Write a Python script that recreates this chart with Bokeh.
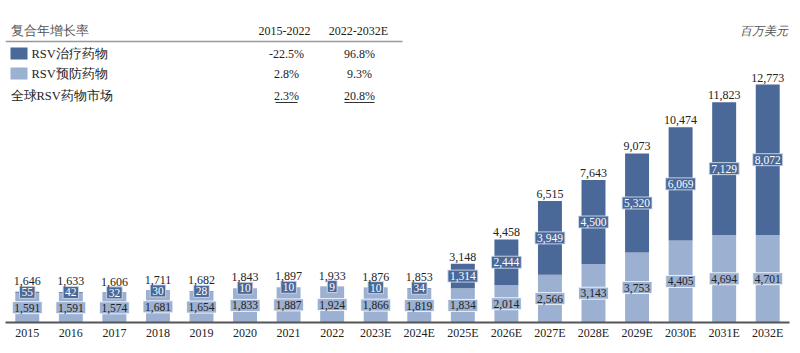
from bokeh.plotting import figure
from bokeh.models import Range1d, FixedTicker, ColumnDataSource
from bokeh.core.properties import value
from bokeh.embed import file_html
from bokeh.resources import INLINE

# ---- data ----
categories = ["2015", "2016", "2017", "2018", "2019", "2020", "2021", "2022", "2023E",
              "2024E", "2025E", "2026E", "2027E", "2028E", "2029E", "2030E", "2031E", "2032E"]
prevention = [1591, 1591, 1574, 1681, 1654, 1833, 1887, 1924, 1866,
              1819, 1834, 2014, 2566, 3143, 3753, 4405, 4694, 4701]
treatment = [55, 42, 32, 30, 28, 10, 10, 9, 10,
             34, 1314, 2444, 3949, 4500, 5320, 6069, 7129, 8072]
totals = [1646, 1633, 1606, 1711, 1682, 1843, 1897, 1933, 1876,
          1853, 3148, 4458, 6515, 7643, 9073, 10474, 11823, 12773]

cagr_header = ["复合年增长率", "2015-2022", "2022-2032E"]
cagr_rows = ["RSV治疗药物", "RSV预防药物", "全球RSV药物市场"]
cagr_2015_2022 = ["-22.5%", "2.8%", "2.3%"]
cagr_2022_2032 = ["96.8%", "9.3%", "20.8%"]
unit_label = "百万美元"

DARK = "#4a6898"
LIGHT = "#9cb0d1"
SERIF = "Liberation Serif"

W, H = 800, 353
LEFT, RIGHT, TOP, BOTTOM = 5, 11, 0, 31
FW = W - LEFT - RIGHT
FH = H - TOP - BOTTOM
UNITS_PER_PX = 12773 / 238.0
YMAX = FH * UNITS_PER_PX
n = len(categories)

p = figure(width=W, height=H, output_backend="svg", toolbar_location=None,
           x_range=Range1d(-0.5, n - 0.5), y_range=Range1d(0, YMAX),
           y_axis_location=None, min_border_left=LEFT, min_border_right=RIGHT,
           min_border_top=TOP, min_border_bottom=BOTTOM)
p.outline_line_color = None
p.xgrid.visible = False
p.ygrid.visible = False
p.background_fill_color = "white"
p.border_fill_color = "white"

xs = list(range(n))
top1 = prevention
top2 = [a + b for a, b in zip(prevention, treatment)]
mid1 = [a / 2 for a in prevention]
mid2 = [a + b / 2 for a, b in zip(prevention, treatment)]
# total label sits above the bar, or above the inner label box if that is higher
total_y = [max(t + 3 * UNITS_PER_PX, m + 7 * UNITS_PER_PX) for t, m in zip(top2, mid2)]

src = ColumnDataSource(dict(
    x=xs, top1=top1, top2=top2, mid1=mid1, mid2=mid2, total_y=total_y,
    prev_s=[f"{v:,}" for v in prevention],
    treat_s=[f"{v:,}" for v in treatment],
    total_s=[f"{v:,}" for v in totals],
))

bw = 0.55
p.vbar(x="x", bottom=0, top="top1", width=bw, source=src, fill_color=LIGHT, line_color=None)
p.vbar(x="x", bottom="top1", top="top2", width=bw, source=src, fill_color=DARK, line_color=None)

p.text(x="x", y="mid1", text="prev_s", source=src, text_font=value(SERIF),
       text_font_size="11.5px", text_color="#222222", text_align="center",
       text_baseline="middle", background_fill_color=LIGHT,
       border_line_color="white", border_line_alpha=0.8, border_line_width=1, padding=2)
p.text(x="x", y="mid2", text="treat_s", source=src, text_font=value(SERIF),
       text_font_size="11.5px", text_color="white", text_align="center",
       text_baseline="middle", background_fill_color=DARK,
       border_line_color="#d0daea", border_line_alpha=0.9, border_line_width=1, padding=2)
p.text(x="x", y="total_y", text="total_s", source=src, text_font=value(SERIF),
       text_font_size="12px", text_color="#222222", text_align="center",
       text_baseline="bottom")

ax = p.xaxis[0]
ax.ticker = FixedTicker(ticks=xs)
ax.major_label_overrides = {i: c for i, c in enumerate(categories)}
ax.major_tick_line_color = None
ax.minor_tick_line_color = None
ax.major_tick_out = 0
ax.major_tick_in = 0
ax.axis_line_color = "#555555"
ax.axis_line_width = 2
ax.major_label_standoff = 3
ax.major_label_text_font = SERIF
ax.major_label_text_font_size = "12px"
ax.major_label_text_color = "#222222"

# ---- CAGR table (positions in pixels converted to data) ----
def px2x(xp):
    return (xp - LEFT) / FW * n - 0.5

def px2y(yp):
    return (FH - (yp - TOP)) * UNITS_PER_PX

tab = ColumnDataSource(dict(
    y=[px2y(53), px2y(73), px2y(95)],
    label=cagr_rows,
    lx=[px2x(31), px2x(31), px2x(10)],
    c1=cagr_2015_2022, c2=cagr_2022_2032,
    x1=[px2x(286)] * 3, x2=[px2x(359)] * 3,
))
p.text(x=[px2x(10)], y=[px2y(30)], text=[cagr_header[0]], text_font=value(SERIF),
       text_font_size="12.5px", text_color="#555555", text_baseline="middle")
p.text(x=[px2x(284), px2x(358)], y=[px2y(30)] * 2, text=cagr_header[1:],
       text_font=value(SERIF), text_font_size="12px", text_color="#222222",
       text_align="center", text_baseline="middle")
p.line(x=[px2x(5), px2x(402)], y=[px2y(41)] * 2, line_color="#999999", line_width=1.5)
p.rect(x=[px2x(18.5)] * 2, y=[px2y(53), px2y(73)], width=17, height=12,
       width_units="screen", height_units="screen",
       fill_color=[DARK, LIGHT], line_color=None)
p.text(x="lx", y="y", text="label", source=tab, text_font=value(SERIF),
       text_font_size="12.5px", text_color="#222222", text_baseline="middle")
p.text(x="x1", y="y", text="c1", source=tab, text_font=value(SERIF),
       text_font_size="12px", text_color="#222222", text_align="center",
       text_baseline="middle")
p.text(x="x2", y="y", text="c2", source=tab, text_font=value(SERIF),
       text_font_size="12px", text_color="#222222", text_align="center",
       text_baseline="middle")
# underlines for total row
p.segment(x0=[px2x(275), px2x(344)], x1=[px2x(297), px2x(374)],
          y0=[px2y(102)] * 2, y1=[px2y(102)] * 2, line_color="#333333", line_width=1)

p.text(x=[px2x(787)], y=[px2y(30)], text=[unit_label], text_font=value(SERIF),
       text_font_size="12px", text_font_style="italic", text_color="#555555",
       text_align="right", text_baseline="middle")

open("out.html", "w").write(file_html(p, INLINE))
